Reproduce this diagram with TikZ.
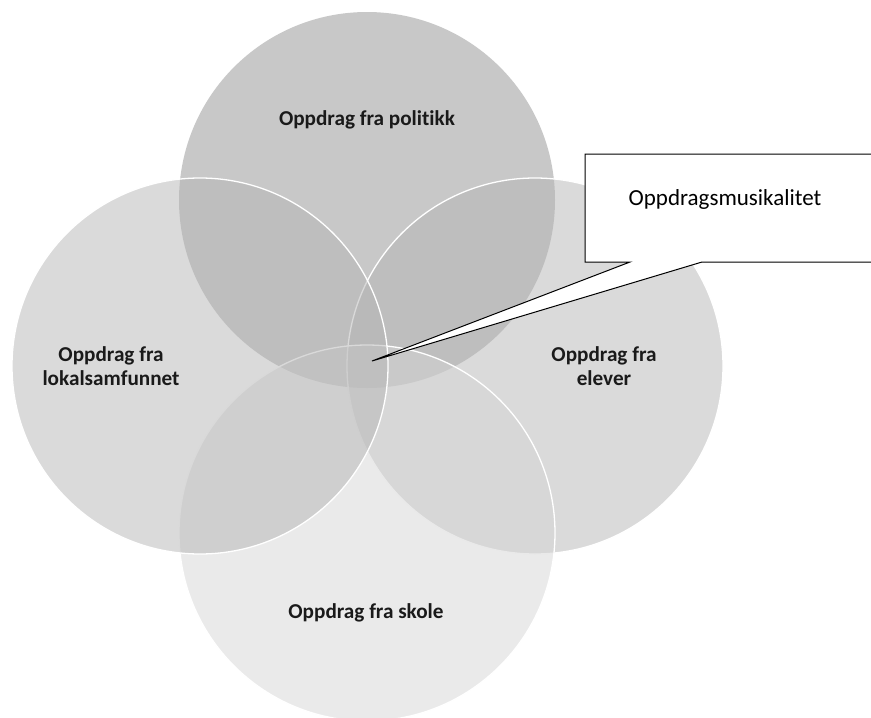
\documentclass[tikz,border=0pt]{standalone}
\usepackage{fontspec}
\setmainfont{Carlito}[Ligatures=NoCommon]
\usepackage{tikz}
\usepackage{xcolor}
\usetikzlibrary{positioning,calc}
\definecolor{ink}{HTML}{1A1A1A}
\definecolor{discdark}{HTML}{919191}
\definecolor{discmid}{HTML}{B5B5B5}
\definecolor{disclight}{HTML}{D5D5D5}
\tikzset{
  disc/.style={circle,minimum size=376pt,inner sep=0pt,fill opacity=0.5,
               draw=white,line width=1.3pt},
  topdisc/.style={disc,draw=none,fill=discdark},
  sidedisc/.style={disc,fill=discmid},
  lowdisc/.style={disc,fill=disclight},
  disclabel/.style={font=\fontsize{21.2}{24}\selectfont\bfseries,text=ink,
                    align=center,inner sep=0pt},
  calloutline/.style={draw=black,fill=white,line width=1pt,line join=miter},
  callouttext/.style={font=\fontsize{23}{27}\selectfont,text=black,
                      inner sep=0pt}
}

\begin{document}
\begin{tikzpicture}[x=1pt,y=-1pt]
    \path[use as bounding box] (0,0) rectangle (871,718);
    \clip (0,0) rectangle (871,718);

    % four overlapping circles, drawn clockwise
    \node[topdisc] (politikk) at (367,200) {};
    \node[sidedisc] (elever) at (535,366) {};
    \node[lowdisc] (skole) at (367,533) {};
    \node[sidedisc] (lokal) at (200,366) {};

    \node[disclabel] (politikklbl) at (367,120) {Oppdrag fra politikk};
    \node[disclabel] (eleverlbl) at (604,366) {Oppdrag fra\\elever};
    \node[disclabel] (skolelbl) at (366,613) {Oppdrag fra skole};
    \node[disclabel] (lokallbl) at (111,366) {Oppdrag fra\\lokalsamfunnet};

    % callout pointing into the middle
    \coordinate (tip) at (372,361);
    \draw[calloutline] (585,154) -- (880,154) -- (880,262) -- (702,262)
      -- (tip) -- (630,262) -- (585,262) -- cycle;
    \node[callouttext] (musikk) at (725,199) {Oppdragsmusikalitet};
  \end{tikzpicture}
\end{document}
